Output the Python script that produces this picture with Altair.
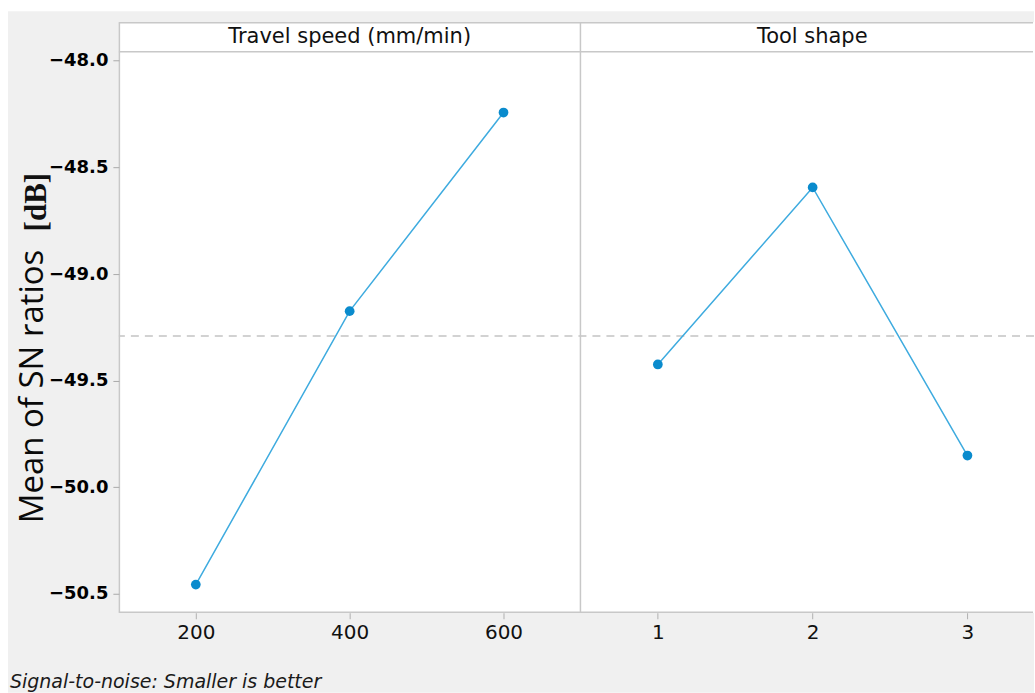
import altair as alt
import pandas as pd

# ---- data ----
speed_levels = [200, 400, 600]
speed_sn = [-50.456, -49.174, -48.243]
tool_levels = [1, 2, 3]
tool_sn = [-49.424, -48.594, -49.851]
panel_titles = ["Travel speed (mm/min)", "Tool shape"]
y_ticks = [-48.0, -48.5, -49.0, -49.5, -50.0, -50.5]
speed_ticks = [200, 400, 600]
tool_ticks = [1, 2, 3]
y_title = "Mean of SN ratios"
y_unit = "[dB]"
caption = "Signal-to-noise: Smaller is better"

# ---- layout / styling ----
LINE = "#3eabdf"
POINT = "#0a8bcd"
FRAME = "#c8c8c8"
BG = "#f0f0f0"
H = 591            # plot height (incl. header strip)
WL = 462           # left panel width
WR = 454           # right panel width (clipped at the window edge)
W = WL + WR
HEADER = 29.5
Y_DOMAIN = [-50.588, -47.82]
speed_range = [100, 700]     # visible x range of the left panel
tool_range = [0.5, 3.43]     # visible x range of the right panel

# each panel's scale spans the full width; its visible part sits in its own panel
speed_domain = [speed_range[0],
                speed_range[0] + (speed_range[1] - speed_range[0]) * W / WL]
tool_domain = [tool_range[0] - (tool_range[1] - tool_range[0]) * WL / WR,
               tool_range[1]]

y_scale = alt.Scale(domain=Y_DOMAIN, nice=False, zero=False)
y_axis = alt.Axis(
    values=y_ticks, format=".1f", title=y_title,
    titleFont="Open Sans", titleFontSize=33, titleFontWeight="normal",
    titleColor="#0a0a0a", titleAngle=270, titleAlign="center",
    titleBaseline="alphabetic", titleX=-76, titleY=364,
    labelFont="DejaVu Sans", labelFontSize=18, labelFontWeight="bold",
    labelColor="#000000", tickColor="#aaaaaa", tickSize=6, labelPadding=5,
    domain=False, grid=False, zindex=2,
)
y = alt.Y("sn:Q", scale=y_scale, axis=y_axis)

speed_df = pd.DataFrame({"level": speed_levels, "sn": speed_sn})
tool_df = pd.DataFrame({"level": tool_levels, "sn": tool_sn})
one = pd.DataFrame({"k": [0]})


def x_axis(values):
    return alt.Axis(values=values, format="d", title=None, orient="bottom",
                    domain=False, grid=False, zindex=2)


point_def = alt.OverlayMarkDef(color=POINT, size=95, filled=True, opacity=1)

# page background: grey panel with a thin white margin at the top and left
bg_rect = alt.Chart(one).mark_rect(color=BG).encode(
    x=alt.value(-111), x2=alt.value(W), y=alt.value(-11), y2=alt.value(H + 80))
plot_rect = alt.Chart(one).mark_rect(color="white").encode(
    x=alt.value(0), x2=alt.value(W), y=alt.value(0), y2=alt.value(H))

mean_rule = alt.Chart(speed_df).transform_aggregate(sn="mean(sn)").mark_rule(
    color="#c4c4c4", strokeDash=[8, 6], strokeWidth=1.5
).encode(y=y)

speed_line = alt.Chart(speed_df).mark_line(
    color=LINE, strokeWidth=1.5, point=point_def
).encode(
    x=alt.X("level:Q", scale=alt.Scale(domain=speed_domain, nice=False, zero=False),
            axis=x_axis(speed_ticks)),
    y=y,
)

tool_line = alt.Chart(tool_df).mark_line(
    color=LINE, strokeWidth=1.5, point=point_def
).encode(
    x=alt.X("level:Q", scale=alt.Scale(domain=tool_domain, nice=False, zero=False),
            axis=x_axis(tool_ticks)),
    y=y,
)


def hrule(ypix):
    return alt.Chart(one).mark_rule(color=FRAME, strokeWidth=1.5).encode(
        x=alt.value(0), x2=alt.value(W - 1), y=alt.value(ypix))


def vrule(xpix):
    return alt.Chart(one).mark_rule(color=FRAME, strokeWidth=1.5).encode(
        x=alt.value(xpix), y=alt.value(0), y2=alt.value(H))


frame = [hrule(0.5), hrule(HEADER), hrule(H - 0.5), vrule(0.5), vrule(WL)]

hdr_df = pd.DataFrame({"t": panel_titles})
hdr_left = alt.Chart(hdr_df.iloc[[0]]).mark_text(
    font="DejaVu Sans", fontSize=21, color="#111111", baseline="middle", align="center"
).encode(x=alt.value(WL / 2), y=alt.value(HEADER / 2), text="t:N")
hdr_right = alt.Chart(hdr_df.iloc[[1]]).mark_text(
    font="DejaVu Sans", fontSize=21, color="#111111", baseline="middle", align="center"
).encode(x=alt.value(WL + 232), y=alt.value(HEADER / 2), text="t:N")

unit_text = alt.Chart(pd.DataFrame({"u": [y_unit]})).mark_text(
    font="Liberation Serif", fontSize=31, fontWeight="bold", color="#111111",
    angle=270, align="center", baseline="alphabetic",
).encode(x=alt.value(-73), y=alt.value(180), text="u:N")

cap_text = alt.Chart(pd.DataFrame({"c": [caption]})).mark_text(
    font="DejaVu Sans", fontSize=19, fontStyle="italic", color="#1a1a1a",
    align="left", baseline="bottom",
).encode(x=alt.value(-109), y=alt.value(670), text="c:N")

chart = (
    alt.layer(bg_rect, plot_rect, mean_rule, *frame, speed_line, tool_line,
              hdr_left, hdr_right, unit_text, cap_text)
    .resolve_scale(x="independent")
    .properties(
        width=W, height=H,
        padding={"left": 8, "top": 11, "right": 0, "bottom": 0},
        background="white",
    )
    .configure_view(fill="white", stroke="transparent")
    .configure_axis(
        labelFont="DejaVu Sans", labelFontSize=20, labelColor="#111111",
        tickColor="#b0b0b0", tickSize=6, labelPadding=4, grid=False,
    )
)

chart.save("out.html", embed_options={"renderer": "svg", "actions": False})
